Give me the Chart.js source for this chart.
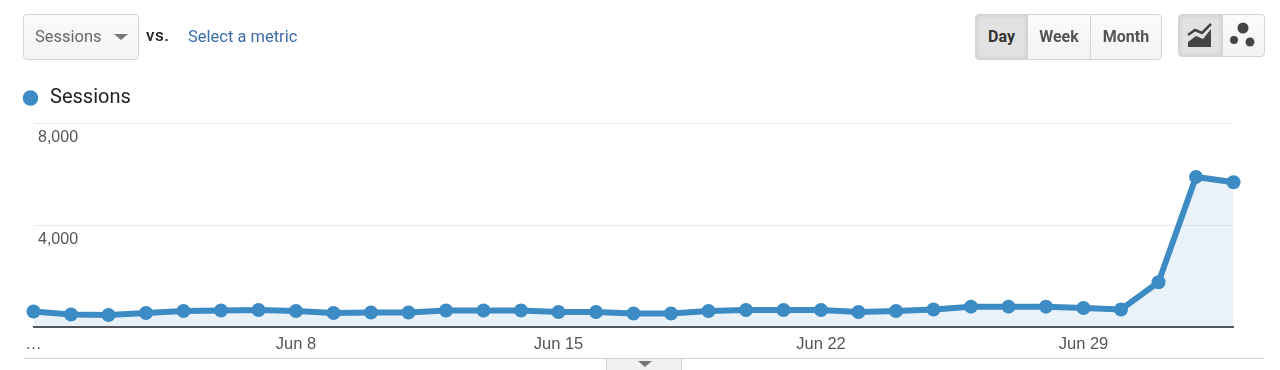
<!DOCTYPE html>
<html>
<head>
<meta charset="utf-8">
<title>Sessions</title>
<script src="https://cdn.jsdelivr.net/npm/chart.js@4"></script>
<style>
  html, body { margin: 0; padding: 0; background: #fff; }
  body { width: 1280px; height: 370px; overflow: hidden; position: relative; font-family: Roboto, sans-serif; }
  #chart-wrap { position: absolute; left: 0; top: 0; width: 1280px; height: 370px; }
  .abs { position: absolute; box-sizing: border-box; }
  .btn { background: linear-gradient(#fbfbfb, #f3f3f3); border: 1px solid #d4d4d4; text-align: center; font-weight: 700; font-size: 16px; color: #555; line-height: 44px; }
  .on { background: #e2e2e2; box-shadow: inset 0 0 5px #c4c4c4; color: #333; }
  .caret { width: 0; height: 0; border-left: 7px solid transparent; border-right: 7px solid transparent; border-top: 6px solid #777; }
</style>
</head>
<body>
<div id="chart-wrap"><canvas id="sessionsChart" width="1280" height="370"></canvas></div>

<!-- metric picker -->
<div class="abs" style="left:23px;top:14px;width:116px;height:46px;border:1px solid #d4d4d4;border-radius:4px;background:linear-gradient(#fbfbfb,#f4f4f4);"></div>
<div class="abs" style="left:35px;top:27px;font-size:16.5px;color:#666;">Sessions</div>
<div class="abs caret" style="left:114px;top:34px;"></div>
<div class="abs" style="left:146px;top:25px;font-size:17px;font-weight:500;letter-spacing:0.5px;color:#222;">vs.</div>
<div class="abs" style="left:188px;top:27px;font-size:16.5px;color:#3a6ca8;">Select a metric</div>

<!-- day / week / month -->
<div class="abs btn on" style="left:975px;top:14px;width:53px;height:46px;border-radius:4px 0 0 4px;">Day</div>
<div class="abs btn" style="left:1027px;top:14px;width:64px;height:46px;">Week</div>
<div class="abs btn" style="left:1090px;top:14px;width:72px;height:46px;border-radius:0 4px 4px 0;">Month</div>

<!-- chart type switch -->
<div class="abs btn on" style="left:1178px;top:14px;width:45px;height:43px;border-radius:4px 0 0 4px;"></div>
<div class="abs btn" style="left:1222px;top:14px;width:43px;height:43px;border-radius:0 4px 4px 0;"></div>
<svg class="abs" style="left:1178px;top:14px;" width="87" height="43">
  <path d="M10 21 L17 16 L24 19 L33 10" fill="none" stroke="#444" stroke-width="2.5"/>
  <path d="M10 33 L10 28 L18 22 L25 25 L33 15 L33 33 Z" fill="#444"/>
  <circle cx="65" cy="14" r="5.5" fill="#444"/>
  <circle cx="56" cy="26" r="4" fill="#444"/>
  <circle cx="72" cy="28" r="4.5" fill="#444"/>
</svg>

<!-- bottom rule and tab -->
<div class="abs" style="left:24px;top:358px;width:1240px;height:1px;background:#d2d2d2;"></div>
<div class="abs" style="left:606px;top:358px;width:76px;height:14px;background:#f0f0f0;border:1px solid #d2d2d2;"></div>
<div class="abs caret" style="left:638px;top:361px;"></div>

<script>
const categories = [
  'Jun 1', 'Jun 2', 'Jun 3', 'Jun 4', 'Jun 5', 'Jun 6', 'Jun 7', 'Jun 8', 'Jun 9', 'Jun 10', 'Jun 11',
  'Jun 12', 'Jun 13', 'Jun 14', 'Jun 15', 'Jun 16', 'Jun 17', 'Jun 18', 'Jun 19', 'Jun 20', 'Jun 21', 'Jun 22',
  'Jun 23', 'Jun 24', 'Jun 25', 'Jun 26', 'Jun 27', 'Jun 28', 'Jun 29', 'Jun 30', 'Jul 1', 'Jul 2', 'Jul 3'
];
const sessions = [
  610, 490, 470, 550, 630, 650, 670, 630, 550, 570, 570,
  650, 650, 650, 590, 590, 530, 530, 630, 670, 670, 670,
  590, 630, 690, 800, 800, 800, 745, 690, 1760, 5900, 5690
];
const xTickLabels = ['Jun 8', 'Jun 15', 'Jun 22', 'Jun 29'];
const yTickValues = [4000, 8000];
const seriesName = 'Sessions';

// Extra room between the legend and the plot
const legendGap = {
  id: 'legendGap',
  beforeInit(chart) {
    const fit = chart.legend.fit;
    chart.legend.fit = function () {
      fit.call(this);
      this.height += 5.5;
    };
  }
};

const chart = new Chart(document.getElementById('sessionsChart'), {
  type: 'line',
  plugins: [legendGap],
  data: {
    labels: categories,
    datasets: [{
      label: seriesName,
      data: sessions,
      borderColor: '#3d8bc4',
      backgroundColor: 'rgba(61, 139, 196, 0.11)',
      pointBackgroundColor: '#3d8bc4',
      pointBorderWidth: 0,
      borderWidth: 6,
      pointRadius: 7,
      fill: 'origin',
      tension: 0,
      clip: false
    }]
  },
  options: {
    responsive: false,
    animation: false,
    layout: { padding: { left: -2.6, right: 46.5, top: 64.4, bottom: 0 } },
    plugins: {
      tooltip: { enabled: false },
      legend: {
        position: 'top',
        align: 'start',
        onClick: null,
        labels: {
          usePointStyle: true,
          boxHeight: 11,
          boxWidth: 19,
          padding: 23.6,
          color: '#222',
          font: { family: 'Roboto, sans-serif', size: 20 },
          // the dataset border would fatten the legend dot
          generateLabels: chart => Chart.defaults.plugins.legend.labels.generateLabels(chart)
            .map(item => ({ ...item, lineWidth: 0 }))
        }
      }
    },
    scales: {
      x: {
        offset: false,
        afterFit: scale => { scale.height = 43; },
        grid: { display: false },
        border: { color: '#555', width: 2 },
        ticks: {
          autoSkip: false,
          maxRotation: 0,
          padding: 0,
          color: '#555',
          font: { family: '"Liberation Sans", Arial, sans-serif', size: 16.5 },
          callback: function (value, index) {
            if (index === 0) return '…';
            const label = categories[index];
            return xTickLabels.includes(label) ? label : '';
          }
        }
      },
      y: {
        min: 0,
        max: 8000,
        afterFit: scale => { scale.width = 36.1; },
        afterBuildTicks: scale => { scale.ticks = [0, ...yTickValues].map(value => ({ value })); },
        grid: {
          color: ctx => ctx.tick.value === 0 ? 'rgba(0,0,0,0)' : '#ebebeb',
          drawTicks: false
        },
        border: { display: false },
        ticks: {
          mirror: true,
          padding: 4.5,
          color: '#555',
          font: { family: '"Liberation Sans", Arial, sans-serif', size: 16, lineHeight: 1.8 },
          // blank first line pushes the number just under its gridline
          callback: value => value === 0 ? '' : ['', value.toLocaleString('en-US')]
        }
      }
    }
  }
});
</script>
</body>
</html>
